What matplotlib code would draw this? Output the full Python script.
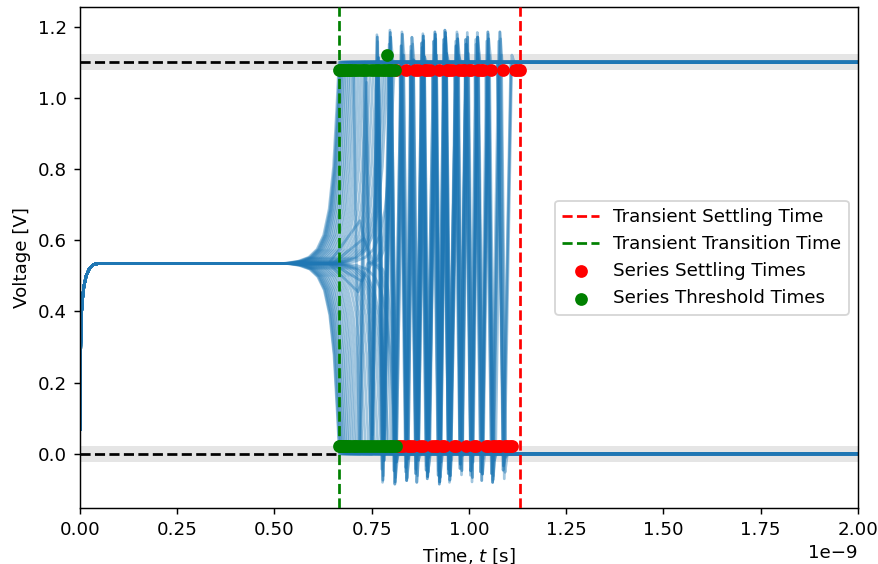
import matplotlib
matplotlib.use("Agg")
import matplotlib.pyplot as plt

# everything in ns and V
V_HIGH = 1.1
V_MID = 0.535
BAND = 0.022

# common start-up of every series
rise_t = [0.0, 0.001, 0.003, 0.006, 0.010, 0.016, 0.024, 0.035, 0.050]
rise_v = [0.07, 0.25, 0.38, 0.43, 0.47, 0.50, 0.52, 0.532, 0.535]

# shape of the escape from the metastable level (fraction of time / of swing)
escape_u = [0.0, 0.25, 0.45, 0.60, 0.72, 0.82, 0.90, 0.96, 1.0]
escape_f = [0.0, 0.01, 0.03, 0.07, 0.14, 0.27, 0.48, 0.78, 1.0]

# ringing apexes (time, voltage), alternating high / low
apex_t = [0.718, 0.733, 0.748, 0.7635, 0.7780, 0.7969, 0.8095, 0.8278, 0.8400,
          0.8535, 0.8660, 0.8817, 0.8930, 0.9126, 0.9240, 0.9383, 0.9500,
          0.9692, 0.9800, 0.9949, 1.0070, 1.0206, 1.0330, 1.0488, 1.0610,
          1.0797, 1.0910, 1.1105, 1.1131]
apex_v = [0.00, 1.10, 0.00, 1.177, -0.080, 1.190, -0.085, 1.185, -0.075,
          1.170, -0.080, 1.180, -0.070, 1.185, -0.085, 1.190, -0.080,
          1.185, -0.065, 1.190, -0.085, 1.190, -0.075, 1.185, -0.080,
          1.185, -0.070, 1.120, -0.050]

# per series
first_high = [1, 0, 1, 0, 1, 0, 1, 0, 1, 0, 1, 0, 1, 0, 1, 0, 1, 0, 1, 0,
              1, 0, 1, 0, 1, 0, 1, 0, 1, 0, 1, 0, 1, 0, 1, 0, 1, 0, 1, 0,
              1, 0, 1, 0, 1, 0, 1, 0, 1, 0, 1, 0]
depart = [0.525, 0.528, 0.530, 0.532, 0.533, 0.535, 0.537, 0.538, 0.540, 0.541,
          0.543, 0.545, 0.547, 0.549, 0.552, 0.554, 0.557, 0.559, 0.562, 0.565,
          0.568, 0.571, 0.574, 0.577, 0.581, 0.584, 0.588, 0.591, 0.595, 0.599,
          0.603, 0.607, 0.611, 0.615, 0.619, 0.623, 0.627, 0.631, 0.635, 0.639,
          0.643, 0.646, 0.649, 0.652, 0.655, 0.658, 0.640, 0.640, 0.645, 0.650,
          0.673, 0.676]
thresh = [0.666, 0.667, 0.668, 0.668, 0.670, 0.671, 0.672, 0.674, 0.675, 0.677,
          0.679, 0.681, 0.683, 0.685, 0.688, 0.690, 0.693, 0.695, 0.698, 0.701,
          0.704, 0.707, 0.710, 0.713, 0.717, 0.720, 0.724, 0.727, 0.731, 0.735,
          0.739, 0.743, 0.747, 0.751, 0.755, 0.759, 0.763, 0.767, 0.771, 0.775,
          0.779, 0.782, 0.785, 0.788, 0.791, 0.794, 0.797, 0.800, 0.803, 0.806,
          0.809, 0.812]
settle = [0.849, 0.937, 1.012, 0.874, 1.093, 0.962, 0.824, 1.056, 0.906, 0.987,
          1.118, 0.837, 0.943, 1.031, 0.887, 1.074, 0.968, 0.856, 1.131, 0.918,
          0.999, 0.831, 1.062, 0.949, 0.881, 1.043, 1.106, 0.862, 0.924, 1.081,
          0.974, 0.812, 1.018, 0.899, 1.006, 0.931, 0.868, 1.112, 0.843, 0.993,
          1.049, 0.912, 1.087, 0.818, 1.124, 0.956, 0.893, 1.037, 1.068, 0.981,
          1.024, 1.099]
# how many ringing apexes each series makes before it settles
n_ring = [3, 6, 2, 8, 4, 5, 7, 3, 9, 4, 2, 6, 5, 8, 3, 7, 4, 10, 6, 2,
          5, 9, 3, 6, 4, 8, 2, 7, 5, 3, 9, 4, 6, 2, 8, 5, 3, 7, 4, 10,
          6, 2, 5, 8, 3, 6, 4, 7, 2, 5, 9, 3]
# phase offset (ns) and swing size of the ringing, per series
shift = [0.000, 0.002, -0.002, 0.004, -0.003, 0.001, 0.000, 0.002, -0.002, 0.004,
         -0.003, 0.001, 0.000, 0.002, -0.002, 0.004, -0.003, 0.001, 0.000, 0.002,
         -0.002, 0.004, -0.003, 0.001, 0.000, 0.002, -0.002, 0.004, -0.003, 0.001,
         0.000, 0.002, -0.002, 0.004, -0.003, 0.001, 0.000, 0.002, -0.002, 0.004,
         -0.003, 0.001, 0.000, 0.002, -0.002, 0.004, -0.003, 0.001, 0.000, 0.002,
         -0.002, 0.004]
swing = [1.00, 0.97, 0.94, 0.90, 0.96, 0.99, 1.00, 0.97, 0.94, 0.90,
         0.96, 0.99, 1.00, 0.97, 0.94, 0.90, 0.96, 0.99, 1.00, 0.97,
         0.94, 0.90, 0.96, 0.99, 1.00, 0.97, 0.94, 0.90, 0.96, 0.99,
         1.00, 0.97, 0.94, 0.90, 0.96, 0.99, 1.00, 0.97, 0.94, 0.90,
         0.96, 0.99, 1.00, 0.97, 0.94, 0.90, 0.96, 0.99, 1.00, 0.97,
         0.94, 0.90]
# small wobble before the escape for the most metastable ones
bump_t = [0] * 46 + [0.715, 0.720, 0.725, 0.730, 0, 0]
bump_v = [0] * 46 + [-0.08, 0.12, -0.05, 0.07, 0, 0]

extra_thresh_t = [0.79]
extra_thresh_v = [1.12]

T_END = 2.0


def build_series(i):
    t = list(rise_t)
    v = list(rise_v)
    rail = V_HIGH if first_high[i] else 0.0
    start = depart[i]
    t.append(start)
    v.append(V_MID)
    if bump_v[i] != 0:
        t += [bump_t[i], bump_t[i] + 0.025]
        v += [V_MID + bump_v[i], V_MID]
        start = bump_t[i] + 0.025
    for u, f in zip(escape_u[1:], escape_f[1:]):
        t.append(start + u * (thresh[i] - start))
        v.append(V_MID + f * (rail - V_MID))

    # alternating apexes the series could visit between threshold and settling
    seq = []
    level = rail
    last = thresh[i]
    for ta, va in zip(apex_t, apex_v):
        ta = ta + shift[i]
        va = V_MID + swing[i] * (va - V_MID)
        if ta > settle[i] - 0.004:
            break
        low = va < V_MID
        if low != (level > V_MID) or ta < last + 0.005:
            continue
        seq.append((ta, va))
        level = 0.0 if low else V_HIGH
        last = ta
    # keep only the last n_ring of them, starting opposite to the rail
    seq = seq[-n_ring[i]:] if n_ring[i] < len(seq) else seq
    if seq and (seq[0][1] > V_MID) == (rail > V_MID):
        seq = seq[1:]

    level = rail
    if seq:
        t.append(max(thresh[i], seq[0][0] - 0.015))
        v.append(level)
        for ta, va in seq:
            t.append(ta)
            v.append(va)
        level = 0.0 if seq[-1][1] < V_MID else V_HIGH
        t.append(seq[-1][0] + 0.006)
        v.append(level)
    t.append(T_END)
    v.append(level)
    return t, v, rail, level


def main():
    fig = plt.figure(figsize=(878 / 131, 564 / 131), dpi=131)
    ax = fig.add_axes([0.0911, 0.0993, 0.8859, 0.8877])

    t_trans = min(thresh)
    t_settle = max(settle)

    ax.axhspan(V_HIGH - BAND, V_HIGH + BAND, color="gray", alpha=0.2, lw=0, zorder=0)
    ax.axhspan(-BAND, BAND, color="gray", alpha=0.2, lw=0, zorder=0)
    ax.plot([0, t_trans * 1e-9], [V_HIGH, V_HIGH], "k--", zorder=1)
    ax.plot([0, t_trans * 1e-9], [0, 0], "k--", zorder=1)

    th_x, th_y, st_x, st_y = [], [], [], []
    for i in range(len(thresh)):
        t, v, rail, final = build_series(i)
        ax.plot([x * 1e-9 for x in t], v, color="C0", alpha=0.42, lw=1.5, zorder=2)
        th_x.append(thresh[i] * 1e-9)
        th_y.append(V_HIGH - BAND if rail > 0 else BAND)
        st_x.append(settle[i] * 1e-9)
        st_y.append(V_HIGH - BAND if final > 0 else BAND)
    th_x += [x * 1e-9 for x in extra_thresh_t]
    th_y += extra_thresh_v

    ax.axvline(t_settle * 1e-9, color="r", ls="--", label="Transient Settling Time", zorder=3)
    ax.axvline(t_trans * 1e-9, color="g", ls="--", label="Transient Transition Time", zorder=3)
    ax.scatter(st_x, st_y, color="red", label="Series Settling Times", zorder=4)
    ax.scatter(th_x, th_y, color="green", label="Series Threshold Times", zorder=4)

    ax.set_xlim(0, 2e-9)
    ax.set_ylim(-0.152, 1.254)
    ax.set_xlabel("Time, $t$ [s]")
    ax.set_ylabel("Voltage [V]")
    ax.legend(loc="center right")

    fig.savefig("out.png", dpi=131)


if __name__ == "__main__":
    main()
